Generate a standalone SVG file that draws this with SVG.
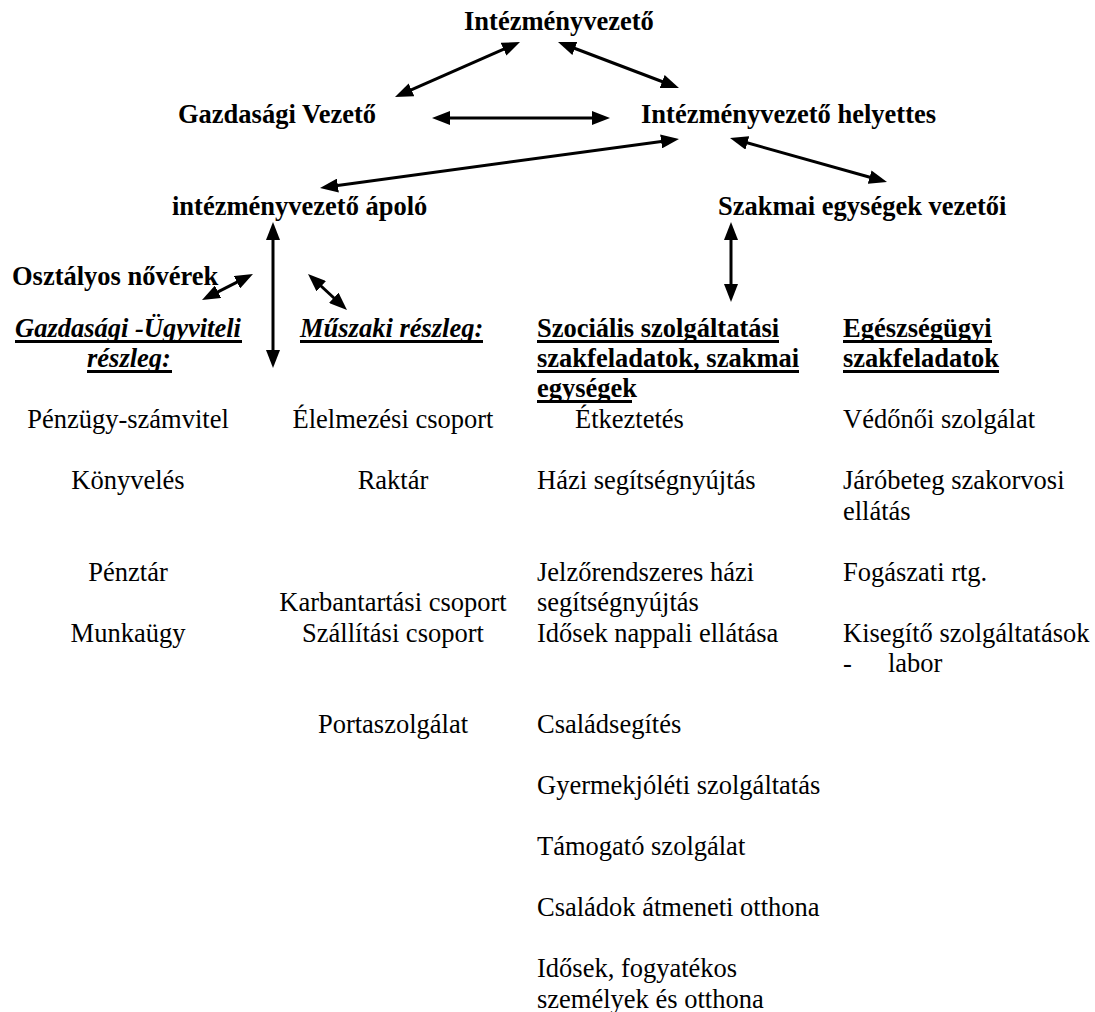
<svg xmlns="http://www.w3.org/2000/svg" width="1095" height="1012" viewBox="0 0 1095 1012">
<style>
text{font-family:"Liberation Serif","Times New Roman",serif;font-size:26.5px;fill:#000}
.b{font-weight:bold}
.bi{font-weight:bold;font-style:italic}
.c{text-anchor:middle}
.ul{stroke:#000;stroke-width:3}
.conn line{stroke:#000;stroke-width:3;marker-start:url(#ah);marker-end:url(#ah)}
</style>
<defs>
<marker id="ah" markerUnits="userSpaceOnUse" markerWidth="18" markerHeight="14" refX="4" refY="7" orient="auto-start-reverse" viewBox="0 0 18 14">
<path d="M0,0 L18,7 L0,14 z" fill="#000"/>
</marker>
</defs>
<rect width="1095" height="1012" fill="#fff"/>

<g id="n-intezmenyvezeto"><text class="b" x="464" y="30">Intézményvezető</text></g>
<g id="n-gazdasagi-vezeto"><text class="b" x="178" y="123">Gazdasági Vezető</text></g>
<g id="n-helyettes"><text class="b" x="641" y="123">Intézményvezető helyettes</text></g>
<g id="n-apolo"><text class="b" x="172" y="215">intézményvezető ápoló</text></g>
<g id="n-szakmai-vezetok"><text class="b" x="718" y="215">Szakmai egységek vezetői</text></g>
<g id="n-osztalyos"><text class="b" x="12" y="285">Osztályos nővérek</text></g>

<g id="n-gazdasagi-ugyviteli">
<text class="bi" x="15" y="337">Gazdasági -Ügyviteli</text>
<line class="ul" x1="15" y1="341.5" x2="242" y2="341.5"/>
<text class="bi" x="87" y="367">részleg:</text>
<line class="ul" x1="87" y1="371.5" x2="172" y2="371.5"/>
<text class="c" x="128" y="428">Pénzügy-számvitel</text>
<text class="c" x="128" y="489">Könyvelés</text>
<text class="c" x="128" y="580.5">Pénztár</text>
<text class="c" x="128" y="641.5">Munkaügy</text>
</g>

<g id="n-muszaki">
<text class="bi" x="300" y="337">Műszaki részleg:</text>
<line class="ul" x1="300" y1="341.5" x2="483" y2="341.5"/>
<text class="c" x="393" y="428">Élelmezési csoport</text>
<text class="c" x="393" y="489">Raktár</text>
<text class="c" x="393" y="611">Karbantartási csoport</text>
<text class="c" x="393" y="641.5">Szállítási csoport</text>
<text class="c" x="393" y="733">Portaszolgálat</text>
</g>

<g id="n-szocialis">
<text class="b" x="537" y="337">Szociális szolgáltatási</text>
<line class="ul" x1="537" y1="341.5" x2="779" y2="341.5"/>
<text class="b" x="537" y="367">szakfeladatok, szakmai</text>
<line class="ul" x1="537" y1="371.5" x2="799" y2="371.5"/>
<text class="b" x="537" y="397">egységek</text>
<line class="ul" x1="537" y1="401.5" x2="632" y2="401.5"/>
<text x="575" y="428">Étkeztetés</text>
<text x="537" y="489">Házi segítségnyújtás</text>
<text x="537" y="580.5">Jelzőrendszeres házi</text>
<text x="537" y="611">segítségnyújtás</text>
<text x="537" y="641.5">Idősek nappali ellátása</text>
<text x="537" y="733">Családsegítés</text>
<text x="537" y="794">Gyermekjóléti szolgáltatás</text>
<text x="537" y="855">Támogató szolgálat</text>
<text x="537" y="916">Családok átmeneti otthona</text>
<text x="537" y="977">Idősek, fogyatékos</text>
<text x="537" y="1007.5">személyek és otthona</text>
</g>

<g id="n-egeszsegugyi">
<text class="b" x="843" y="337">Egészségügyi</text>
<line class="ul" x1="843" y1="341.5" x2="992" y2="341.5"/>
<text class="b" x="843" y="367">szakfeladatok</text>
<line class="ul" x1="843" y1="371.5" x2="999" y2="371.5"/>
<text x="843" y="428">Védőnői szolgálat</text>
<text x="843" y="489">Járóbeteg szakorvosi</text>
<text x="843" y="519.5">ellátás</text>
<text x="843" y="580.5">Fogászati rtg.</text>
<text x="843" y="641.5">Kisegítő szolgáltatások</text>
<text x="843" y="672">-</text>
<text x="888" y="672">labor</text>
</g>

<g id="connectors" class="conn">
<line x1="407.8" y1="91.4" x2="507.2" y2="47.6"/>
<line x1="571.1" y1="47" x2="665.9" y2="83"/>
<line x1="446" y1="118" x2="596" y2="118"/>
<line x1="333.9" y1="186.1" x2="665.1" y2="140.9"/>
<line x1="743.5" y1="141.8" x2="873.5" y2="178.2"/>
<line x1="273" y1="236" x2="273" y2="354"/>
<line x1="214.5" y1="293.6" x2="240.5" y2="280.4"/>
<line x1="318.3" y1="283.5" x2="336.7" y2="300.5"/>
<line x1="731" y1="236" x2="731" y2="288"/>
</g>
</svg>
